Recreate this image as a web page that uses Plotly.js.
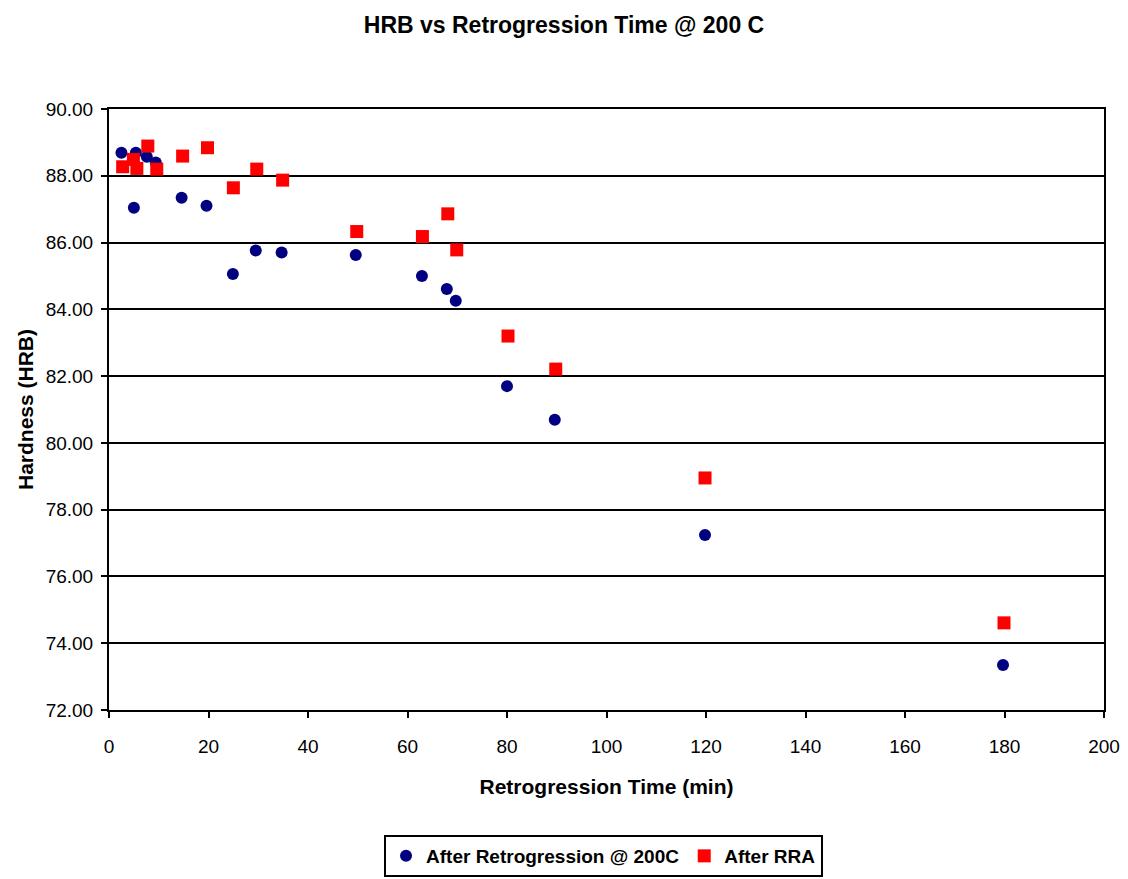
<!DOCTYPE html>
<html>
<head>
<meta charset="utf-8">
<script src="https://cdn.plot.ly/plotly-3.0.1.min.js"></script>
<style>html,body{margin:0;padding:0;background:#fff;}#chart{width:1128px;height:879px;}</style>
</head>
<body>
<div id="chart"></div>
<script>
var retroTime = [2.5, 5, 5.4, 7.6, 9.4, 14.6, 19.6, 24.9, 29.5, 34.7, 49.6, 62.9, 67.9, 69.7, 80, 89.6, 119.8, 179.7];
var retroHRB  = [88.69, 87.04, 88.69, 88.57, 88.40, 87.34, 87.10, 85.06, 85.76, 85.70, 85.63, 85.00, 84.61, 84.26, 81.70, 80.69, 77.24, 73.35];
var rraTime = [2.75, 4.9, 5.6, 7.8, 9.6, 14.8, 19.8, 25, 29.7, 34.9, 49.8, 63.0, 68.1, 69.9, 80.2, 89.8, 119.8, 179.9];
var rraHRB  = [88.27, 88.49, 88.22, 88.89, 88.20, 88.59, 88.84, 87.64, 88.20, 87.87, 86.33, 86.18, 86.86, 85.78, 83.20, 82.21, 78.95, 74.61];

var font = "Liberation Sans, Arial, sans-serif";
var traces = [
  {x: retroTime, y: retroHRB, mode: 'markers', type: 'scatter', name: 'After Retrogression @ 200C',
   marker: {color: '#000080', size: 12, symbol: 'circle'}},
  {x: rraTime, y: rraHRB, mode: 'markers', type: 'scatter', name: 'After RRA',
   marker: {color: '#ff0000', size: 13, symbol: 'square'}}
];
var layout = {
  width: 1128, height: 879,
  paper_bgcolor: '#fff', plot_bgcolor: '#fff',
  margin: {l: 109, r: 24, t: 109, b: 169, autoexpand: false},
  font: {family: font, color: '#000', size: 19},
  title: {text: '<b>HRB vs Retrogression Time @ 200 C</b>', x: 0.5, xanchor: 'center', y: 0.972, yanchor: 'middle',
          font: {family: font, size: 23, color: '#000'}},
  xaxis: {range: [0, 200], dtick: 20, tick0: 0, showgrid: false, zeroline: false,
          showline: true, linecolor: '#000', linewidth: 2, mirror: true,
          ticks: 'outside', ticklen: 6, tickcolor: '#000', tickwidth: 2, ticklabelstandoff: 12,
          tickfont: {family: font, size: 19, color: '#000'},
          title: {text: '<b>Retrogression Time (min)</b>', font: {family: font, size: 21, color: '#000'}, standoff: 24}},
  yaxis: {range: [72, 90], dtick: 2, tick0: 72, tickformat: '.2f', showgrid: true, gridcolor: '#000', gridwidth: 2,
          zeroline: false, showline: true, linecolor: '#000', linewidth: 2, mirror: true,
          ticks: 'outside', ticklen: 6, tickcolor: '#000', tickwidth: 2, ticklabelstandoff: 4,
          tickfont: {family: font, size: 19, color: '#000'},
          title: {text: '<b>Hardness (HRB)</b>', font: {family: font, size: 21, color: '#000'}, standoff: 6}},
  showlegend: true,
  legend: {orientation: 'h', x: 0.497, xanchor: 'center', y: -0.208, yanchor: 'top',
           bordercolor: '#000', borderwidth: 2, bgcolor: '#fff',
           font: {family: font, size: 19, color: '#000', weight: 'bold'}, itemwidth: 30, tracegroupgap: 0}
};
Plotly.newPlot('chart', traces, layout, {displayModeBar: false, staticPlot: true});
</script>
</body>
</html>
